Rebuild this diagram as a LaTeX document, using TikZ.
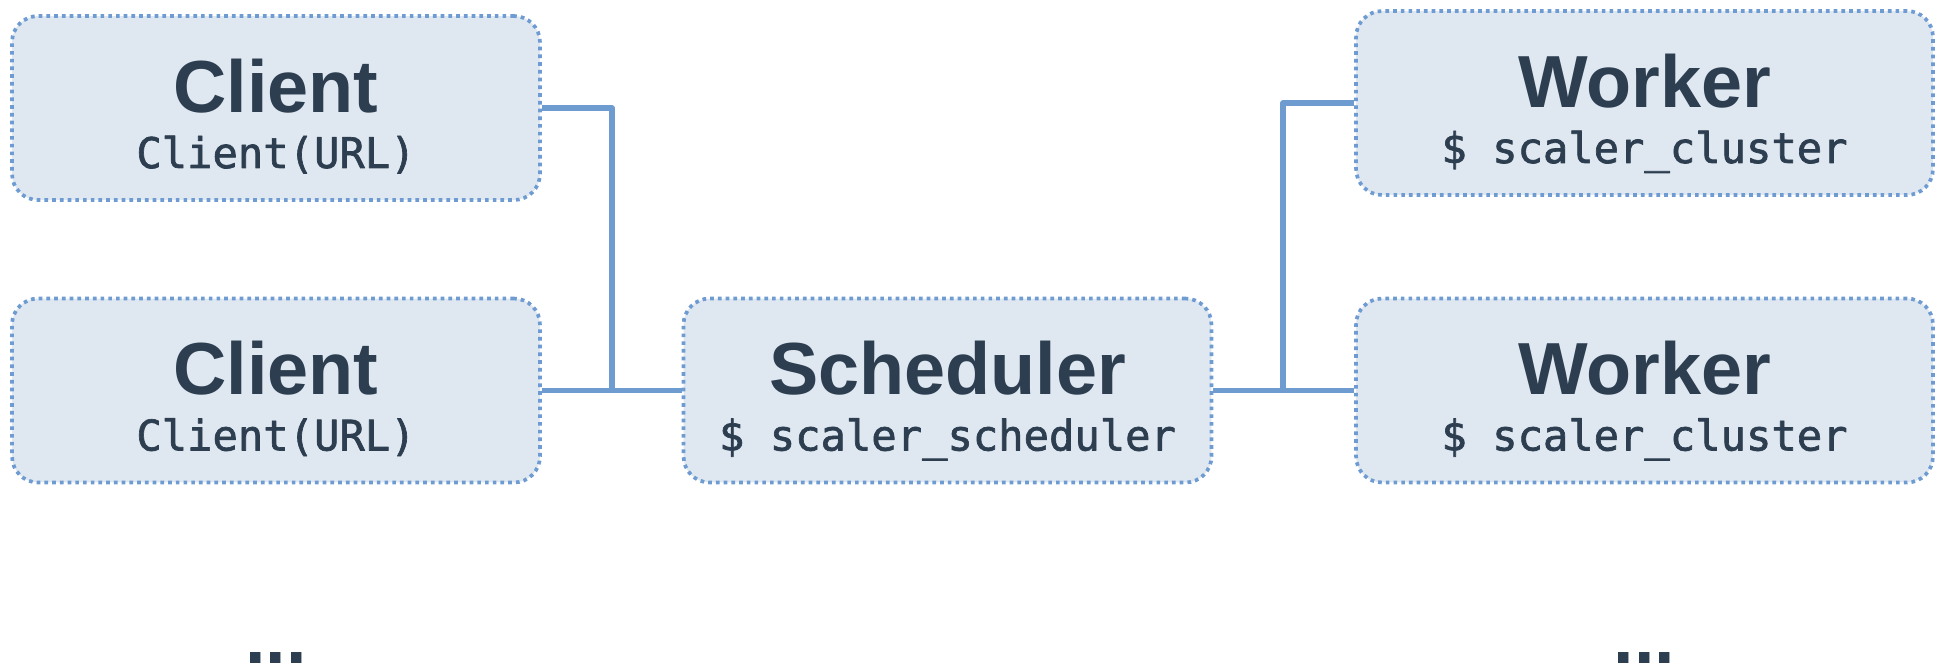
\documentclass[tikz,border=0pt]{standalone}
\usepackage{fontspec}
\setmainfont{Liberation Sans}
\newfontfamily\codefont[FakeBold=1.6]{DejaVu Sans Mono}
\definecolor{boxfill}{HTML}{DFE7F0}
\definecolor{boxline}{HTML}{6E9BD2}
\definecolor{linkblue}{HTML}{6F9CD0}
\definecolor{ink}{HTML}{2C3E50}
\begin{document}
\begin{tikzpicture}[x=0.02cm,y=-0.02cm,line join=round]
    \tikzstyle{proc}=[rectangle, draw=boxline, fill=boxfill, rounded corners=0.52cm, line width=2.1pt, dash pattern=on 2.1pt off 2.3pt, minimum height=3.68cm]
    \tikzstyle{headline}=[font=\bfseries\fontsize{42}{42}\selectfont, text=ink, anchor=base, inner sep=0pt]
    \tikzstyle{cmd}=[font=\codefont\fontsize{24}{24}\selectfont, text=ink, anchor=base, inner sep=0pt]
    \tikzstyle{link}=[draw=linkblue, line width=3.2pt]
    \useasboundingbox (0,0) rectangle (1946,667);
    % boxes
    \node[proc, minimum width=10.56cm] (client1) at (276,108) {};
    \node[proc, minimum width=10.56cm] (client2) at (276,390.5) {};
    \node[proc, minimum width=10.56cm] (sched) at (947.5,390.5) {};
    \node[proc, minimum width=11.54cm] (worker1) at (1644.5,103) {};
    \node[proc, minimum width=11.54cm] (worker2) at (1644.5,390.5) {};
    % texts in the boxes
    \node[headline] (client1 name) at ([yshift=-0.08cm]client1.center) {Client};
    \node[cmd] (client1 cmd) at ([yshift=-1.2cm]client1.center) {Client(URL)};
    \node[headline] (client2 name) at ([yshift=-0.08cm]client2.center) {Client};
    \node[cmd] (client2 cmd) at ([yshift=-1.2cm]client2.center) {Client(URL)};
    \node[headline] (sched name) at ([yshift=-0.08cm]sched.center) {Scheduler};
    \node[cmd] (sched cmd) at ([yshift=-1.2cm]sched.center) {\$ scaler\_scheduler};
    \node[headline] (worker1 name) at ([yshift=-0.08cm]worker1.center) {Worker};
    \node[cmd] (worker1 cmd) at ([yshift=-1.2cm]worker1.center) {\$ scaler\_cluster};
    \node[headline] (worker2 name) at ([yshift=-0.08cm]worker2.center) {Worker};
    \node[cmd] (worker2 cmd) at ([yshift=-1.2cm]worker2.center) {\$ scaler\_cluster};
    % more of them
    \node[headline] (more clients) at (276,663) {...};
    \node[headline] (more workers) at (1644.5,663) {...};
    % wiring
    \coordinate (ljoin) at (612,390.5);
    \coordinate (rjoin) at (1283,390.5);
    \draw[link] (client1.east) -| (ljoin);
    \draw[link] (client2.east) -- (sched.west);
    \draw[link] (sched.east) -- (worker2.west);
    \draw[link] (rjoin) |- (worker1.west);
\end{tikzpicture}
\end{document}
